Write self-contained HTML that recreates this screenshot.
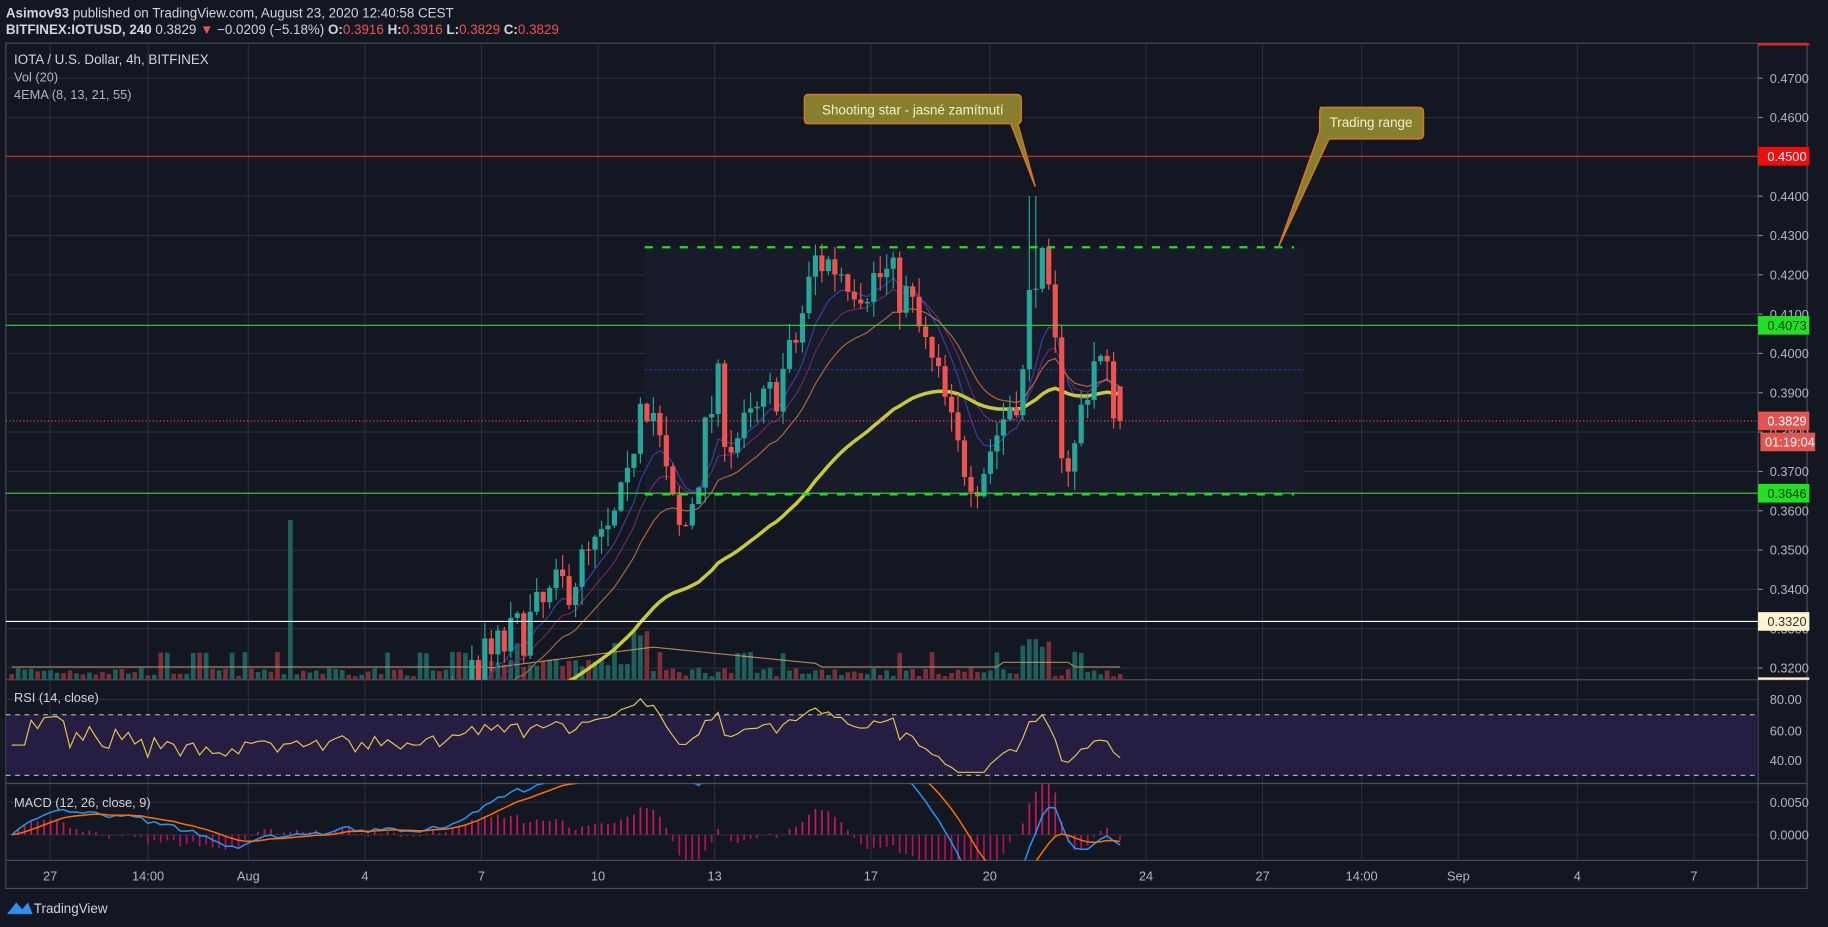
<!DOCTYPE html>
<html><head><meta charset="utf-8"><style>
html,body{margin:0;padding:0;background:#131722;width:1828px;height:927px;overflow:hidden}
svg{display:block;font-family:"Liberation Sans",sans-serif}
</style></head><body>
<svg id="s" width="1828" height="927" viewBox="0 0 1568 795" xmlns="http://www.w3.org/2000/svg">
<rect width="1568" height="795" fill="#131722"/>
<text x="5" y="15" font-size="11.5" fill="#d1d4dc"><tspan font-weight="bold">Asimov93</tspan> published on TradingView.com, August 23, 2020 12:40:58 CEST</text>
<text x="5" y="29" font-size="11.5" fill="#d1d4dc"><tspan font-weight="bold">BITFINEX:IOTUSD, 240</tspan> 0.3829 <tspan fill="#ef5350">▼</tspan> −0.0209 (−5.18%) <tspan font-weight="bold">O:</tspan><tspan fill="#ef5350">0.3916</tspan> <tspan font-weight="bold">H:</tspan><tspan fill="#ef5350">0.3916</tspan> <tspan font-weight="bold">L:</tspan><tspan fill="#ef5350">0.3829</tspan> <tspan font-weight="bold">C:</tspan><tspan fill="#ef5350">0.3829</tspan></text>
<g id="g"></g>
</svg>
<script>
var NS="http://www.w3.org/2000/svg",G=document.getElementById("g");
function el(t,a,txt){var e=document.createElementNS(NS,t);for(var k in a)e.setAttribute(k,a[k]);if(txt!=null)e.textContent=txt;G.appendChild(e);return e;}
var L=5,R=1508,T=37,MB=583,RB=672,MCB=738,TB=762,FR=1550;
function py(p){return 67+(0.47-p)*3373;}
el("rect",{x:L,y:T,width:FR-L,height:TB-T,fill:"#131722",stroke:"#4a4e59","stroke-width":1});
var dates=[[43,"27"],[127,"14:00"],[213,"Aug"],[313,"4"],[413,"7"],[513,"10"],[613,"13"],[747,"17"],[849,"20"],[983,"24"],[1083,"27"],[1168,"14:00"],[1251,"Sep"],[1353,"4"],[1453,"7"]];
dates.forEach(function(d){el("line",{x1:d[0],x2:d[0],y1:T,y2:TB-24,stroke:"#2a2e39"});el("text",{x:d[0],y:755,"font-size":11,fill:"#b2b5be","text-anchor":"middle"},d[1]);});
for(var p=0.32;p<=0.4701;p+=0.01){var y=py(p);el("line",{x1:L,x2:R,y1:y,y2:y,stroke:"#2a2e39"});el("text",{x:1518,y:y+4,"font-size":11,fill:"#b2b5be"},p.toFixed(4));el("line",{x1:R,x2:R+4,y1:y,y2:y,stroke:"#888"});}
[[600,"80.00"],[627,"60.00"],[652,"40.00"]].forEach(function(a){el("line",{x1:L,x2:R,y1:a[0],y2:a[0],stroke:"#2a2e39"});el("text",{x:1518,y:a[0]+4,"font-size":11,fill:"#b2b5be"},a[1]);});
[[688,"0.0050"],[716,"0.0000"]].forEach(function(a){el("line",{x1:L,x2:R,y1:a[0],y2:a[0],stroke:"#2a2e39"});el("text",{x:1518,y:a[0]+4,"font-size":11,fill:"#b2b5be"},a[1]);});
[MB,RB,MCB].forEach(function(y){el("line",{x1:L,x2:FR,y1:y,y2:y,stroke:"#4a4e59"});});
el("line",{x1:R,x2:R,y1:T,y2:TB,stroke:"#4a4e59"});
el("rect",{x:L,y:613,width:R-L,height:52,fill:"#2a1f48",opacity:0.85});
el("line",{x1:L,x2:R,y1:613,y2:613,stroke:"#aaa","stroke-dasharray":"4,4"});
el("line",{x1:L,x2:R,y1:665,y2:665,stroke:"#aaa","stroke-dasharray":"4,4"});
el("rect",{x:553,y:212,width:565,height:211,fill:"#181c2a"});
var kp=[[8,0.300],[100,0.305],[200,0.298],[300,0.303],[380,0.305],[400,0.318],[430,0.325],[460,0.333],[490,0.343],[520,0.352],[540,0.366],[548,0.393],[560,0.386],[575,0.362],[585,0.352],[600,0.372],[615,0.392],[625,0.378],[640,0.380],[660,0.388],[680,0.400],[700,0.424],[720,0.422],[740,0.418],[760,0.420],[780,0.413],[795,0.400],[810,0.388],[820,0.375],[840,0.369],[855,0.380],[870,0.390],[880,0.395],[885,0.425],[895,0.420],[905,0.400],[912,0.374],[920,0.372],[930,0.390],[940,0.400],[950,0.393],[962,0.383]];
function interp(x){for(var i=1;i<kp.length;i++)if(x<=kp[i][0]){var a=kp[i-1],b=kp[i];return a[1]+(b[1]-a[1])*(x-a[0])/(b[0]-a[0]);}return kp[kp.length-1][1];}
var seed=7;function rnd(){seed=(seed*16807)%2147483647;return seed/2147483647;}
var cs=[],prev=0.300,N=172;
for(var i=0;i<N;i++){var x=10+i*5.56;var c=interp(x)+(rnd()-0.5)*0.014;if(i==N-1)c=0.3829;var o=prev;var h=Math.max(o,c)+rnd()*0.005,l=Math.min(o,c)-rnd()*0.005;if(Math.abs(x-885)<3){h=0.440;}if(Math.abs(x-890)<3)h=0.440;cs.push({x:x,o:o,c:c,h:h,l:l,v:rnd()});prev=c;}
cs[N-1].o=0.3916;cs[N-1].h=0.3916;
var vbase=583;
cs.forEach(function(k,i){var v=3+k.v*9;if(k.v>0.85)v+=12;if(k.x>540&&k.x<560)v+=25;if(k.x>875&&k.x<900)v+=25;if(Math.abs(k.x-249)<3)v=137;if(k.x>420&&k.x<560)v+=8;el("rect",{x:k.x-2,y:vbase-v,width:4,height:v,fill:k.c>=k.o?"#1f5f5c":"#7a3036"});});
var vp="";cs.forEach(function(k,i){vp+=(i?"L":"M")+k.x+","+(573-(k.x>420&&k.x<700?(k.x<560?(k.x-420)/140*18:18-(k.x-560)/140*14):1)-(k.x>860&&k.x<920?4:0));});
el("path",{d:vp,fill:"none",stroke:"#d1a36b","stroke-width":1,opacity:0.8});
var cp=document.createElementNS(NS,"clipPath");cp.id="cm";var cr=document.createElementNS(NS,"rect");cr.setAttribute("x",L);cr.setAttribute("y",T);cr.setAttribute("width",R-L);cr.setAttribute("height",MB-T);cp.appendChild(cr);G.appendChild(cp);
var MG=el("g",{"clip-path":"url(#cm)"});
function mel(t,a){var e=document.createElementNS(NS,t);for(var k in a)e.setAttribute(k,a[k]);MG.appendChild(e);return e;}
function ema(n){var a=2/(n+1),e=cs[0].c,r=[];cs.forEach(function(k){e=k.c*a+e*(1-a);r.push(e);});return r;}
[[8,"#3b3fa0",1],[13,"#6a2a6a",1],[21,"#b5673a",1],[55,"#c8c83a",3]].forEach(function(q){var r=ema(q[0]),d="";cs.forEach(function(k,i){d+=(i?"L":"M")+k.x.toFixed(1)+","+py(r[i]).toFixed(1);});mel("path",{d:d,fill:"none",stroke:q[1],"stroke-width":q[2]});});
mel("line",{x1:553,x2:1118,y1:317,y2:317,stroke:"#2a3aa0","stroke-dasharray":"2,2"});
cs.forEach(function(k){var col=k.c>=k.o?"#26a69a":"#ef5350";mel("line",{x1:k.x,x2:k.x,y1:py(k.h),y2:py(k.l),stroke:col});var t=py(Math.max(k.o,k.c)),b=py(Math.min(k.o,k.c));mel("rect",{x:k.x-2.2,y:t,width:4.4,height:Math.max(1,b-t),fill:col});});
el("line",{x1:L,x2:R,y1:134,y2:134,stroke:"#e0261f"});
el("line",{x1:L,x2:R,y1:279,y2:279,stroke:"#3ad33a"});
el("line",{x1:L,x2:R,y1:423,y2:423,stroke:"#3ad33a"});
el("line",{x1:L,x2:R,y1:533,y2:533,stroke:"#ffffff"});
el("line",{x1:L,x2:R,y1:361,y2:361,stroke:"#ef5350","stroke-dasharray":"1,2"});
el("line",{x1:553,x2:1110,y1:212,y2:212,stroke:"#22dd22","stroke-width":2,"stroke-dasharray":"7,8"});
el("line",{x1:553,x2:1110,y1:424,y2:424,stroke:"#22dd22","stroke-width":2,"stroke-dasharray":"7,8"});
function lab(y,t,bg,fg){el("rect",{x:R,y:y-8,width:44,height:16,fill:bg});el("text",{x:R+8,y:y+4,"font-size":11,fill:fg},t);}
el("rect",{x:R,y:37,width:44,height:2,fill:"#e0261f"});
lab(134,"0.4500","#f20d0d","#fff");lab(279,"0.4073","#21e021","#0a3a0a");lab(361,"0.3829","#e5534e","#fff");
el("rect",{x:R+2,y:371,width:47,height:16,fill:"#e5534e"});el("text",{x:R+6,y:383,"font-size":11,fill:"#fff"},"01:19:04");
lab(423,"0.3646","#21e021","#0a3a0a");lab(533,"0.3320","#fff3d0","#333");
el("rect",{x:R,y:581,width:44,height:2,fill:"#fff3d0"});
var rs="",gain=0,loss=0;cs.forEach(function(k,i){var d=k.c-k.o;var a=1/14;gain=gain*(1-a)+Math.max(d,0)*a;loss=loss*(1-a)+Math.max(-d,0)*a;var r=i<3?50:100-100/(1+gain/(loss||1e-9));r=Math.max(32,Math.min(86,r));rs+=(i?"L":"M")+k.x.toFixed(1)+","+(600+(80-r)*1.3).toFixed(1);});
el("path",{d:rs,fill:"none",stroke:"#e6c84a","stroke-width":1});
var e12=ema(12),e26=ema(26),m=[],sg=[],s=0;cs.forEach(function(k,i){m.push(e12[i]-e26[i]);s=i?m[i]*0.2+s*0.8:m[i];sg.push(s);});
var CL=document.createElementNS(NS,"clipPath");CL.id="cc";var cr2=document.createElementNS(NS,"rect");cr2.setAttribute("x",L);cr2.setAttribute("y",RB);cr2.setAttribute("width",R-L);cr2.setAttribute("height",MCB-RB);CL.appendChild(cr2);G.appendChild(CL);
var MC=el("g",{"clip-path":"url(#cc)"});
function my(v){return 716-v*5600;}
cs.forEach(function(k,i){var h=m[i]-sg[i];var e=document.createElementNS(NS,"line");e.setAttribute("x1",k.x);e.setAttribute("x2",k.x);e.setAttribute("y1",716);e.setAttribute("y2",my(h*1.5));e.setAttribute("stroke",h>=0?"#c2185b":"#b0105a");e.setAttribute("stroke-width",1.5);MC.appendChild(e);});
[[m,"#2196f3"],[sg,"#ff6d00"]].forEach(function(q){var d="";cs.forEach(function(k,i){d+=(i?"L":"M")+k.x.toFixed(1)+","+my(q[0][i]).toFixed(1);});var e=document.createElementNS(NS,"path");e.setAttribute("d",d);e.setAttribute("fill","none");e.setAttribute("stroke",q[1]);e.setAttribute("stroke-width",1.3);MC.appendChild(e);});
el("text",{x:12,y:55,"font-size":11.5,fill:"#d1d4dc"},"IOTA / U.S. Dollar, 4h, BITFINEX");
el("text",{x:12,y:70,"font-size":11,fill:"#b2b5be"},"Vol (20)");
el("text",{x:12,y:85,"font-size":11,fill:"#b2b5be"},"4EMA (8, 13, 21, 55)");
el("text",{x:12,y:602,"font-size":11,fill:"#d1d4dc"},"RSI (14, close)");
el("text",{x:12,y:692,"font-size":11,fill:"#d1d4dc"},"MACD (12, 26, close, 9)");
el("path",{d:"M693,81 H872 Q876,81 876,85 V102 Q876,106 872,106 H873 L888,160 L867,106 H693 Q690,106 690,102 V85 Q690,81 693,81 Z",fill:"#877f2c",stroke:"#d2772a","stroke-width":1.3});
el("text",{x:783,y:98,"font-size":11.5,fill:"#f3efd0","text-anchor":"middle"},"Shooting star - jasné zamítnutí");
el("path",{d:"M1132,92 H1217 Q1221,92 1221,96 V115 Q1221,119 1217,119 H1140 L1097,211 L1132,113 V96 Q1132,92 1136,92 Z",fill:"#877f2c",stroke:"#d2772a","stroke-width":1.3});
el("text",{x:1176,y:109,"font-size":11.5,fill:"#f3efd0","text-anchor":"middle"},"Trading range");
el("path",{d:"M6,784 L14,774 L19,780 L24,774 L28,784 Z",fill:"#2f8ff0"});
el("text",{x:29,y:783,"font-size":11.5,fill:"#d1d4dc"},"TradingView");
</script>
</body></html>
